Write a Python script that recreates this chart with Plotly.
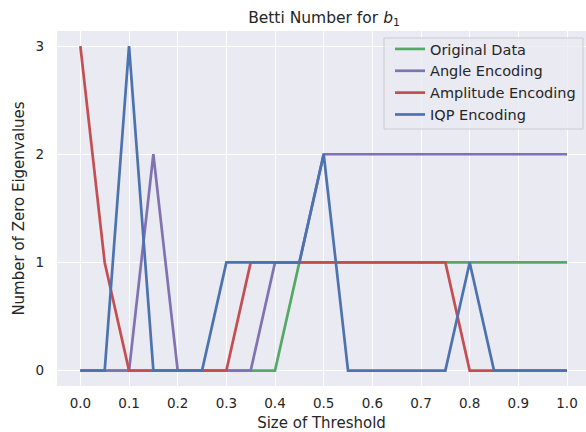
import plotly.graph_objects as go

thresholds = [round(i * 0.05, 2) for i in range(21)]
original = [0, 0, 0, 0, 0, 0, 0, 0, 0, 1, 1, 1, 1, 1, 1, 1, 1, 1, 1, 1, 1]
angle = [0, 0, 0, 2, 0, 0, 0, 0, 1, 1, 2, 2, 2, 2, 2, 2, 2, 2, 2, 2, 2]
amplitude = [3, 1, 0, 0, 0, 0, 0, 1, 1, 1, 1, 1, 1, 1, 1, 1, 0, 0, 0, 0, 0]
iqp = [0, 0, 3, 0, 0, 0, 1, 1, 1, 1, 2, 0, 0, 0, 0, 0, 1, 0, 0, 0, 0]
x_ticks = [i / 10 for i in range(11)]
x_tick_text = [f"{v:.1f}" for v in x_ticks]
y_ticks = [0, 1, 2, 3]

series = [
    ("Original Data", original, "#55A868"),
    ("Angle Encoding", angle, "#8172B2"),
    ("Amplitude Encoding", amplitude, "#C44E52"),
    ("IQP Encoding", iqp, "#4C72B0"),
]

fig = go.Figure()
for name, vals, color in series:
    fig.add_trace(go.Scatter(x=thresholds, y=vals, mode="lines", name=name,
                             line=dict(color=color, width=2.7)))

W, H = 586, 432
L, R, T, B = 57, 0, 31, 46
pw, ph = W - L - R, H - T - B


def px_x(px):
    return (px - L) / pw


def px_y(py):
    return 1 - (py - T) / ph


font_family = "DejaVu Sans"
fig.update_layout(
    width=W, height=H,
    margin=dict(l=L, r=R, t=T, b=B),
    paper_bgcolor="white",
    plot_bgcolor="#EAEAF2",
    font=dict(family=font_family, color="#262626", size=13.5),
    title=dict(text="Betti Number for <i>b</i><sub>1</sub>", xref="paper", x=px_x(324),
               xanchor="center", y=1 - 17.5 / H, yanchor="middle", font=dict(size=15.5)),
    xaxis=dict(range=[-0.048, 1.039], tickmode="array",
               tickvals=x_ticks, ticktext=x_tick_text,
               showgrid=True, gridcolor="white", gridwidth=1.2, zeroline=False,
               showline=False, ticks="", ticklabelstandoff=7,
               title=dict(text="Size of Threshold", font=dict(size=15), standoff=7)),
    yaxis=dict(range=[-0.142, 3.139], tickmode="array", tickvals=y_ticks,
               showgrid=True, gridcolor="white", gridwidth=1.2, zeroline=False,
               showline=False, ticks="", ticklabelstandoff=12,
               title=dict(text="Number of Zero Eigenvalues", font=dict(size=15), standoff=7)),
    legend=dict(x=px_x(390), y=px_y(33), xanchor="left", yanchor="top",
                bgcolor="rgba(0,0,0,0)", borderwidth=0,
                font=dict(size=14.5), tracegroupgap=0),
    shapes=[dict(type="rect", xref="paper", yref="paper",
                 x0=px_x(384), x1=px_x(583), y0=px_y(129), y1=px_y(38),
                 fillcolor="rgba(234,234,242,0.8)", line=dict(color="#CCCCCC", width=1),
                 layer="above")],
    showlegend=True,
)

fig.write_html("out.html")
